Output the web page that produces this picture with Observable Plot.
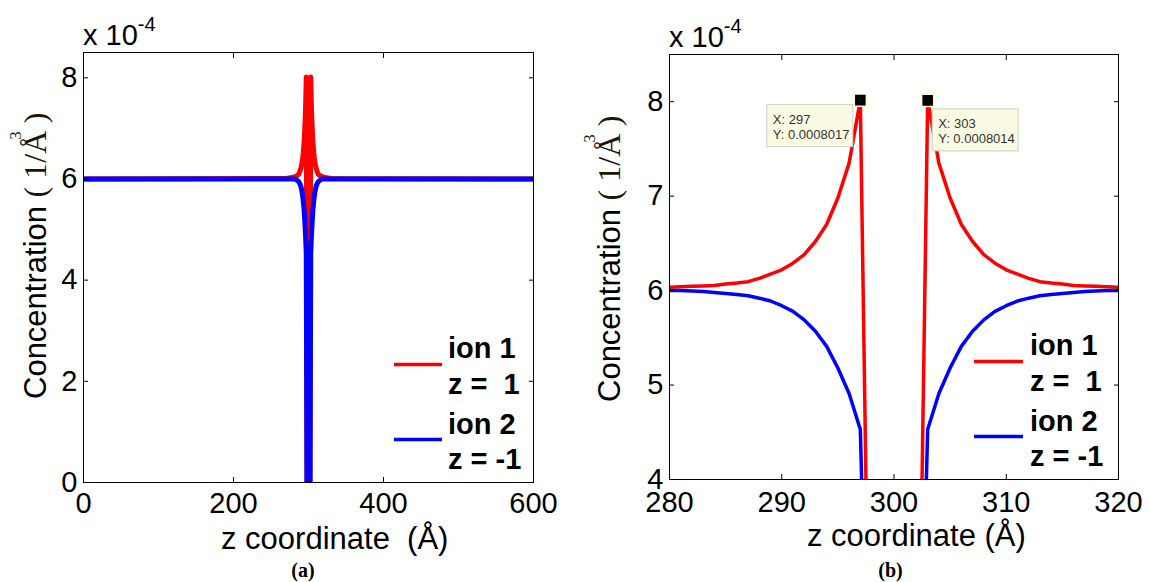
<!DOCTYPE html>
<html>
<head>
<meta charset="utf-8">
<script src="https://cdn.jsdelivr.net/npm/d3@7"></script>
<script src="https://cdn.jsdelivr.net/npm/@observablehq/plot@0.6"></script>
<style>
  html, body { margin: 0; padding: 0; background: #fff; }
  #wrap { position: relative; width: 1149px; height: 582px; background: #fff; overflow: hidden; }
  #wrap svg { position: absolute; top: 0; }
</style>
</head>
<body>
<div id="wrap"></div>
<script>
// ---- data (concentration in units of 1e-4 1/Å^3) ----
const zCoord = [0, 270,
  280, 281, 282, 283, 284, 285, 286, 287, 288, 289,
  290, 291, 292, 293, 294, 295, 296, 297, 298, 299,
  300, 301, 302, 303, 304, 305, 306, 307, 308, 309,
  310, 311, 312, 313, 314, 315, 316, 317, 318, 319,
  320, 330, 600];
const ion1 = [6.0, 6.01,
  6.035, 6.04, 6.045, 6.05, 6.055, 6.07, 6.08, 6.095, 6.13, 6.175,
  6.22, 6.29, 6.38, 6.52, 6.70, 6.98, 7.35, 8.017, 0, 0,
  0, 0, 0, 8.014, 7.35, 6.98, 6.70, 6.52, 6.38, 6.29,
  6.22, 6.175, 6.13, 6.095, 6.08, 6.07, 6.055, 6.05, 6.045, 6.04,
  6.035, 6.01, 6.0];
const ion2 = [6.0, 6.0,
  6.0, 6.0, 5.995, 5.99, 5.98, 5.97, 5.96, 5.945, 5.92, 5.89,
  5.84, 5.78, 5.69, 5.57, 5.41, 5.18, 4.91, 4.53, 0, 0,
  0, 0, 0, 4.53, 4.91, 5.18, 5.41, 5.57, 5.69, 5.78,
  5.84, 5.89, 5.92, 5.945, 5.96, 5.97, 5.98, 5.99, 5.995, 6.0,
  6.0, 6.0, 6.0];
const seriesNames = ["ion 1", "ion 2"];
const seriesCharges = ["z =  1", "z = -1"];
const xTicksA = [0, 200, 400, 600];
const yTicksA = [0, 2, 4, 6, 8];
const xTicksB = [280, 290, 300, 310, 320];
const yTicksB = [4, 5, 6, 7, 8];
const tipZ = [297, 303];
const tipC = [8.017, 8.014];

// ---- styles ----
const SANS = "'Liberation Sans', Arial, Helvetica, sans-serif";
const SERIF = "'Liberation Serif', 'Times New Roman', serif";
const COLORS = ["#ff0000", "#0000ff"];

const rows1 = zCoord.map((z, i) => ({z, c: ion1[i]}));
const rows2 = zCoord.map((z, i) => ({z, c: ion2[i]}));
const tips = tipZ.map((z, i) => ({z, c: tipC[i]}));
const fmt = d => String(d);

function panel(cfg) {
  const m = cfg.margins;
  const marks = [
    Plot.line(rows1, {x: "z", y: "c", stroke: COLORS[0], strokeWidth: cfg.lw, clip: true}),
    Plot.line(rows2, {x: "z", y: "c", stroke: COLORS[1], strokeWidth: cfg.lw, clip: true}),
    Plot.frame({stroke: "black", strokeWidth: 1}),
    Plot.axisX({ticks: cfg.xTicks, anchor: "bottom", tickSize: -5, fill: "none", stroke: "black", label: null}),
    Plot.axisX({ticks: cfg.xTicks, anchor: "top", tickSize: -5, fill: "none", stroke: "black", label: null}),
    Plot.axisY({ticks: cfg.yTicks, anchor: "left", tickSize: -5, fill: "none", stroke: "black", label: null}),
    Plot.axisY({ticks: cfg.yTicks, anchor: "right", tickSize: -5, fill: "none", stroke: "black", label: null}),
    Plot.axisX({ticks: cfg.xTicks, tickFormat: fmt, anchor: "bottom", tickSize: 0, tickPadding: cfg.xPad, fontSize: 29, fill: "black", label: null}),
    Plot.axisY({ticks: cfg.yTicks, tickFormat: fmt, anchor: "left", tickSize: 0, tickPadding: 6, fontSize: 29, fill: "black", label: null})
  ];
  if (cfg.showTips) {
    marks.push(Plot.dot(tips, {x: "z", y: "c", symbol: "square", r: 6.8, fill: "black", stroke: "#fff8c8", strokeWidth: 1.5}));
  }
  const chart = Plot.plot({
    width: cfg.width, height: 582,
    marginLeft: m[0], marginRight: m[1], marginTop: m[2], marginBottom: m[3],
    style: {fontFamily: SANS, fontSize: "29px", background: "white", color: "black", overflow: "visible"},
    x: {domain: cfg.xDomain, label: null},
    y: {domain: cfg.yDomain, label: null},
    marks
  });
  chart.style.left = cfg.left + "px";
  const svg = d3.select(chart);
  const L = m[0], R = cfg.width - m[1], T = m[2], B = 582 - m[3];
  const txt = (x, y) => svg.append("text").attr("x", x).attr("y", y)
    .attr("text-anchor", "start").attr("fill", "black").attr("font-family", SANS)
    .style("white-space", "pre").attr("xml:space", "preserve");

  // multiplier "x 10^-4"
  const mult = txt(L, T - 7).attr("font-size", 29);
  mult.append("tspan").text("x 10");
  mult.append("tspan").attr("font-size", 20).attr("dy", -14).text("-4");

  // y label
  const yl = svg.append("text")
    .attr("transform", `translate(46,${B - cfg.yLabelOff}) rotate(-90)`)
    .attr("text-anchor", "start").attr("fill", "black")
    .style("white-space", "pre").attr("xml:space", "preserve");
  yl.append("tspan").attr("font-family", SANS).attr("font-size", 31).text("Concentration ");
  yl.append("tspan").attr("font-family", SERIF).attr("font-size", 32).attr("fill", "#1e1408").text("( 1/Å");
  yl.append("tspan").attr("font-family", SERIF).attr("font-size", 17).attr("dx", -9).attr("dy", -25).attr("fill", "#1e1408").text("3");
  yl.append("tspan").attr("font-family", SERIF).attr("font-size", 32).attr("dy", 25).attr("fill", "#1e1408").text(" )");

  // x label
  txt(L + 138, B + 67).attr("font-size", 31).text(cfg.xLabel);

  // caption
  svg.append("text").attr("x", (L + R) / 2 + cfg.capDx).attr("y", 577)
    .attr("text-anchor", "middle").attr("font-family", SERIF).attr("font-weight", "bold")
    .attr("font-size", 20).attr("fill", "black").text(cfg.caption);

  // legend
  const lg = cfg.legend;
  const lineYs = [B - 117.5, B - 42.5];
  const nameYs = [B - 124, B - 48];
  const chargeYs = [B - 88, B - 13];
  seriesNames.forEach((name, i) => {
    svg.append("line").attr("x1", R - lg.x1).attr("x2", R - lg.x2)
      .attr("y1", lineYs[i]).attr("y2", lineYs[i])
      .attr("stroke", COLORS[i]).attr("stroke-width", 3.5);
    txt(R - lg.tx, nameYs[i]).attr("font-weight", "bold").attr("font-size", 29).text(name);
    txt(R - lg.tx, chargeYs[i]).attr("font-weight", "bold").attr("font-size", 29).text(seriesCharges[i]);
  });

  // data tips
  if (cfg.showTips) {
    const sx = chart.scale("x"), sy = chart.scale("y");
    tips.forEach((t, i) => {
      const px = sx.apply(t.z), py = sy.apply(t.c);
      const w = 86, h = 42;
      const bx = i === 0 ? px - 7 - w : px + 5;
      const by = i === 0 ? py + 5 : py + 9;
      svg.append("rect").attr("x", bx).attr("y", by).attr("width", w).attr("height", h)
        .attr("fill", "#fbfbe4").attr("stroke", "#cfcfc4").attr("stroke-width", 1);
      txt(bx + 6, by + 19).attr("font-size", 13).attr("fill", "#333").text("X: " + t.z);
      txt(bx + 6, by + 34).attr("font-size", 13).attr("fill", "#333").text("Y: " + (t.c * 1e-4).toFixed(7));
    });
  }
  return chart;
}

const wrap = document.getElementById("wrap");
wrap.appendChild(panel({
  left: 0, width: 574, margins: [83, 41, 52, 100],
  xDomain: [0, 600], yDomain: [0, 8.5], xTicks: xTicksA, yTicks: yTicksA,
  lw: 5, xPad: 10, yLabelOff: 83, xLabel: "z coordinate  (Å)",
  caption: "(a)", capDx: -5, legend: {x1: 139, x2: 91, tx: 85}, showTips: false
}));
wrap.appendChild(panel({
  left: 574, width: 575, margins: [95, 31, 54, 103],
  xDomain: [280, 320], yDomain: [4, 8.5], xTicks: xTicksB, yTicks: yTicksB,
  lw: 3.5, xPad: 12, yLabelOff: 77, xLabel: "z coordinate (Å)",
  caption: "(b)", capDx: -3, legend: {x1: 144, x2: 95, tx: 88}, showTips: true
}));
</script>
</body>
</html>
